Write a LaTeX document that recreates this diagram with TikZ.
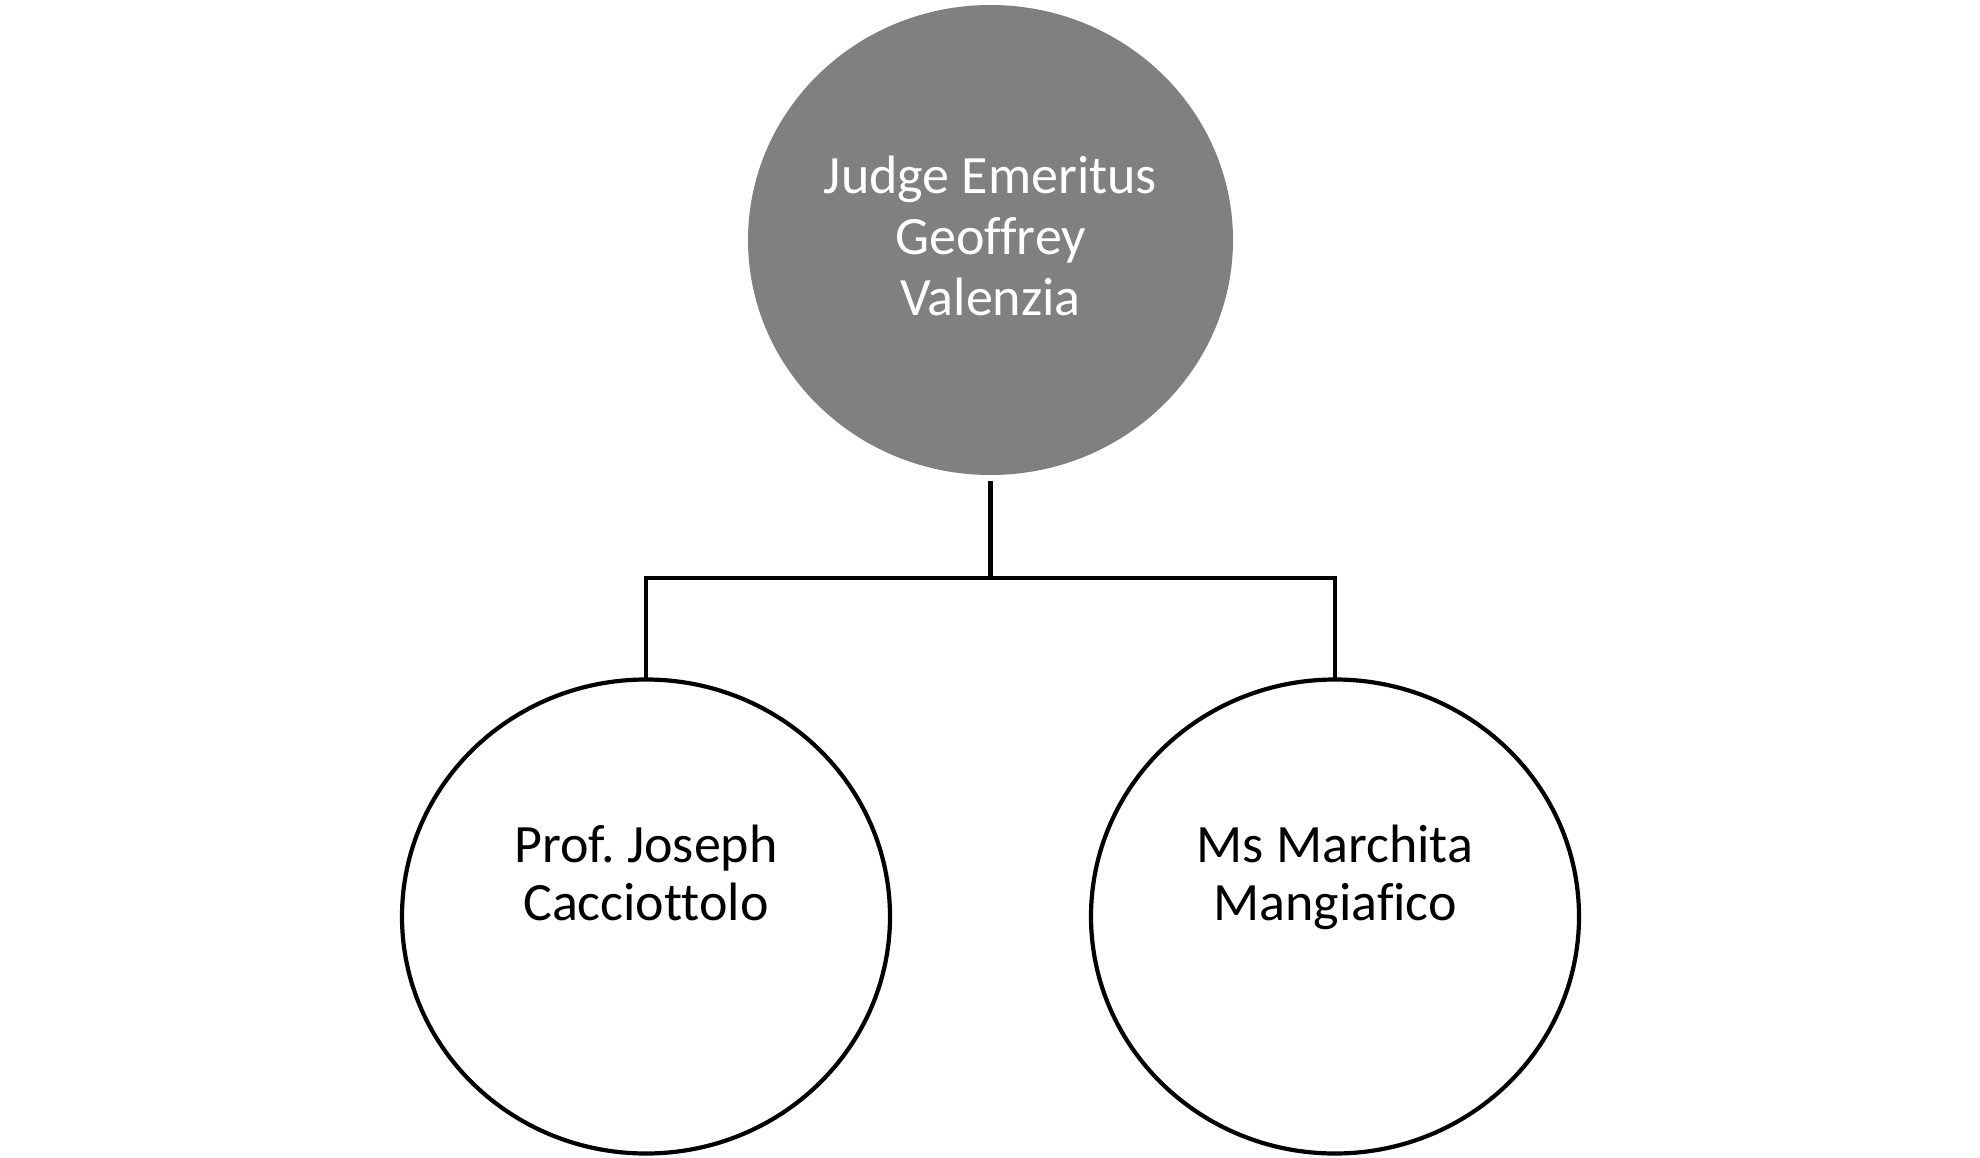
\documentclass[tikz,border=0pt]{standalone}
\usepackage{fontspec}
\setmainfont{Carlito}[Ligatures=NoCommon]
\frenchspacing
\usetikzlibrary{shapes.geometric}
\definecolor{topgrey}{HTML}{808080}
\tikzset{
  person/.style={ellipse, inner sep=0pt, line width=4.2pt},
  toptext/.style={align=center, text=white, font=\fontsize{54}{61}\selectfont, inner sep=0pt},
  childtext/.style={align=center, text=black, font=\fontsize{54}{58}\selectfont, inner sep=0pt},
  link/.style={line width=4.2pt, line cap=rect}
}
\begin{document}
\begin{tikzpicture}[x=1pt, y=-1pt]
\useasboundingbox (0,0) rectangle (1980,1158);
\node[person, fill=topgrey, minimum width=485pt, minimum height=470pt] (top) at (990.5,240) {};
\node[person, draw=black, fill=white, minimum width=488pt, minimum height=474pt] (left) at (646,916.5) {};
\node[person, draw=black, fill=white, minimum width=488pt, minimum height=474pt] (right) at (1335,916.5) {};
\node[toptext, anchor=base] (toptxt) at (990.5,315) {Judge Emeritus\\Geoffrey\\Valenzia};
\node[childtext, anchor=base] (lefttxt) at (646,920) {Prof. Joseph\\Cacciottolo};
\node[childtext, anchor=base] (righttxt) at (1335,920) {Ms Marchita\\Mangiafico};
\coordinate (bus) at (990.5,578);
\draw[link] ([yshift=-6pt]top.south) -- (bus) -| (left.north);
\draw[link] (bus) -| (right.north);
\end{tikzpicture}
\end{document}
